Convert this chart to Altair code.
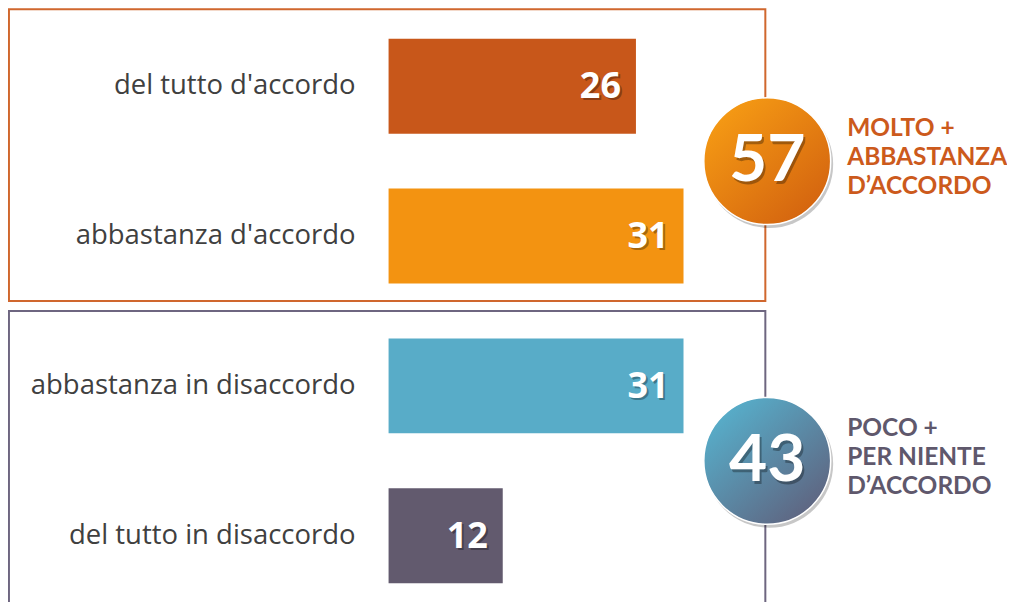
import altair as alt
import pandas as pd

# ---- data ----
categories = ["del tutto d'accordo", "abbastanza d'accordo",
              "abbastanza in disaccordo", "del tutto in disaccordo"]
values = [26, 31, 31, 12]
rows = [0, 1, 2, 3]
groups = ["accordo", "accordo", "disaccordo", "disaccordo"]

group_names = ["accordo", "disaccordo"]
group_totals = [57, 43]
group_labels = ["MOLTO +\nABBASTANZA\nD\u2019ACCORDO", "POCO +\nPER NIENTE\nD\u2019ACCORDO"]

# ---- styles / layout (kept apart from the data) ----
bar_colors = ["#C8571A", "#F39311", "#58ACC8", "#625A6E"]
group_text_colors = ["#CC5A1C", "#5F586C"]
group_box_colors = ["#D0672E", "#6E6680"]
group_row_center = [0.5, 2.5]
circle_x = 39.8
label_x = 48.2
box_x = [-39.9, 39.6]
box_y = [[-0.513, 1.433], [1.5, 3.7]]

FONT = "Open Sans"
SIDE_FONT = "Lato"
W, H = 1000, 594

bars_df = pd.DataFrame({"cat": categories, "value": values, "row": rows,
                        "group": groups, "zero": [0] * 4})
grp_df = pd.DataFrame({
    "group": group_names, "total": group_totals, "label": group_labels,
    "row": group_row_center, "cx": [circle_x] * 2, "lx": [label_x] * 2,
    "bx1": [box_x[0]] * 2, "bx2": [box_x[1]] * 2,
    "by1": [b[0] for b in box_y], "by2": [b[1] for b in box_y],
})

xs = alt.Scale(domain=[-40, 65], nice=False, zero=False, padding=0)
ys = alt.Scale(domain=[-0.52, 3.44], reverse=True, nice=False, zero=False, padding=0)

base = alt.Chart(bars_df)
gbase = alt.Chart(grp_df)

boxes = gbase.mark_rect(fill=None, strokeWidth=2).encode(
    x=alt.X("bx1:Q", scale=xs, axis=None),
    x2="bx2:Q",
    y=alt.Y("by1:Q", scale=ys, axis=None),
    y2="by2:Q",
    stroke=alt.Stroke("group:N", scale=alt.Scale(domain=group_names, range=group_box_colors), legend=None),
)

bars = base.mark_bar(orient="horizontal", size=95).encode(
    x=alt.X("value:Q", scale=xs, axis=None),
    x2="zero:Q",
    y=alt.Y("row:Q", scale=ys, axis=None),
    color=alt.Color("cat:N", scale=alt.Scale(domain=categories, range=bar_colors), legend=None),
)

cat_labels = base.mark_text(align="right", baseline="middle", dx=-33, fontSize=27.5,
                            font=FONT, color="#404040").encode(
    x=alt.X("zero:Q", scale=xs, axis=None),
    y=alt.Y("row:Q", scale=ys, axis=None),
    text="cat:N",
)

val_shadow = base.mark_text(align="right", baseline="middle", dx=-13, dy=3, fontSize=36,
                            font=FONT, fontWeight="bold", color="#000000", opacity=0.3).encode(
    x=alt.X("value:Q", scale=xs, axis=None),
    y=alt.Y("row:Q", scale=ys, axis=None),
    text="value:Q",
)
val_labels = base.mark_text(align="right", baseline="middle", dx=-15, dy=1, fontSize=36,
                            font=FONT, fontWeight="bold", color="white").encode(
    x=alt.X("value:Q", scale=xs, axis=None),
    y=alt.Y("row:Q", scale=ys, axis=None),
    text="value:Q",
)

grad_orange = alt.LinearGradient(gradient="linear", x1=0.15, y1=0.1, x2=0.9, y2=0.95,
                                 stops=[alt.GradientStop(color="#F59A14", offset=0),
                                        alt.GradientStop(color="#D2610F", offset=1)])
grad_blue = alt.LinearGradient(gradient="linear", x1=0.15, y1=0.1, x2=0.9, y2=0.95,
                               stops=[alt.GradientStop(color="#57AECA", offset=0),
                                      alt.GradientStop(color="#5F607C", offset=1)])

def circle_layers(gname, grad):
    sub = gbase.transform_filter(alt.datum.group == gname)
    shadow = sub.mark_point(shape="circle", filled=True, size=128 * 128, color="#000000",
                            opacity=0.22, xOffset=2, yOffset=3).encode(
        x=alt.X("cx:Q", scale=xs, axis=None), y=alt.Y("row:Q", scale=ys, axis=None))
    circ = sub.mark_point(shape="circle", filled=True, size=127 * 127, fill=grad,
                          stroke="white", strokeWidth=1.5, opacity=1).encode(
        x=alt.X("cx:Q", scale=xs, axis=None), y=alt.Y("row:Q", scale=ys, axis=None))
    return shadow + circ

tot_shadow = gbase.mark_text(align="center", baseline="middle", fontSize=66, font=SIDE_FONT,
                             fontWeight="bold", color="#000000", opacity=0.3, dx=2, dy=3).encode(
    x=alt.X("cx:Q", scale=xs, axis=None), y=alt.Y("row:Q", scale=ys, axis=None), text="total:Q")
tot_text = gbase.mark_text(align="center", baseline="middle", fontSize=66, font=SIDE_FONT,
                           fontWeight="bold", color="white").encode(
    x=alt.X("cx:Q", scale=xs, axis=None), y=alt.Y("row:Q", scale=ys, axis=None), text="total:Q")

side_text = gbase.mark_text(align="left", baseline="middle", fontSize=24.5, font=SIDE_FONT,
                            fontWeight="bold", lineBreak="\n", lineHeight=29, dy=-32).encode(
    x=alt.X("lx:Q", scale=xs, axis=None),
    y=alt.Y("row:Q", scale=ys, axis=None),
    text="label:N",
    color=alt.Color("group:N", scale=alt.Scale(domain=group_names, range=group_text_colors), legend=None),
)

chart = alt.layer(
    boxes, bars, cat_labels, val_shadow, val_labels,
    circle_layers("accordo", grad_orange), circle_layers("disaccordo", grad_blue),
    tot_shadow, tot_text, side_text,
).resolve_scale(color="independent", stroke="independent").properties(
    width=W, height=H, padding=0,
    autosize=alt.AutoSizeParams(type="none"),
).configure_view(stroke=None)

chart.save("out.html", embed_options={"renderer": "svg", "actions": False})
